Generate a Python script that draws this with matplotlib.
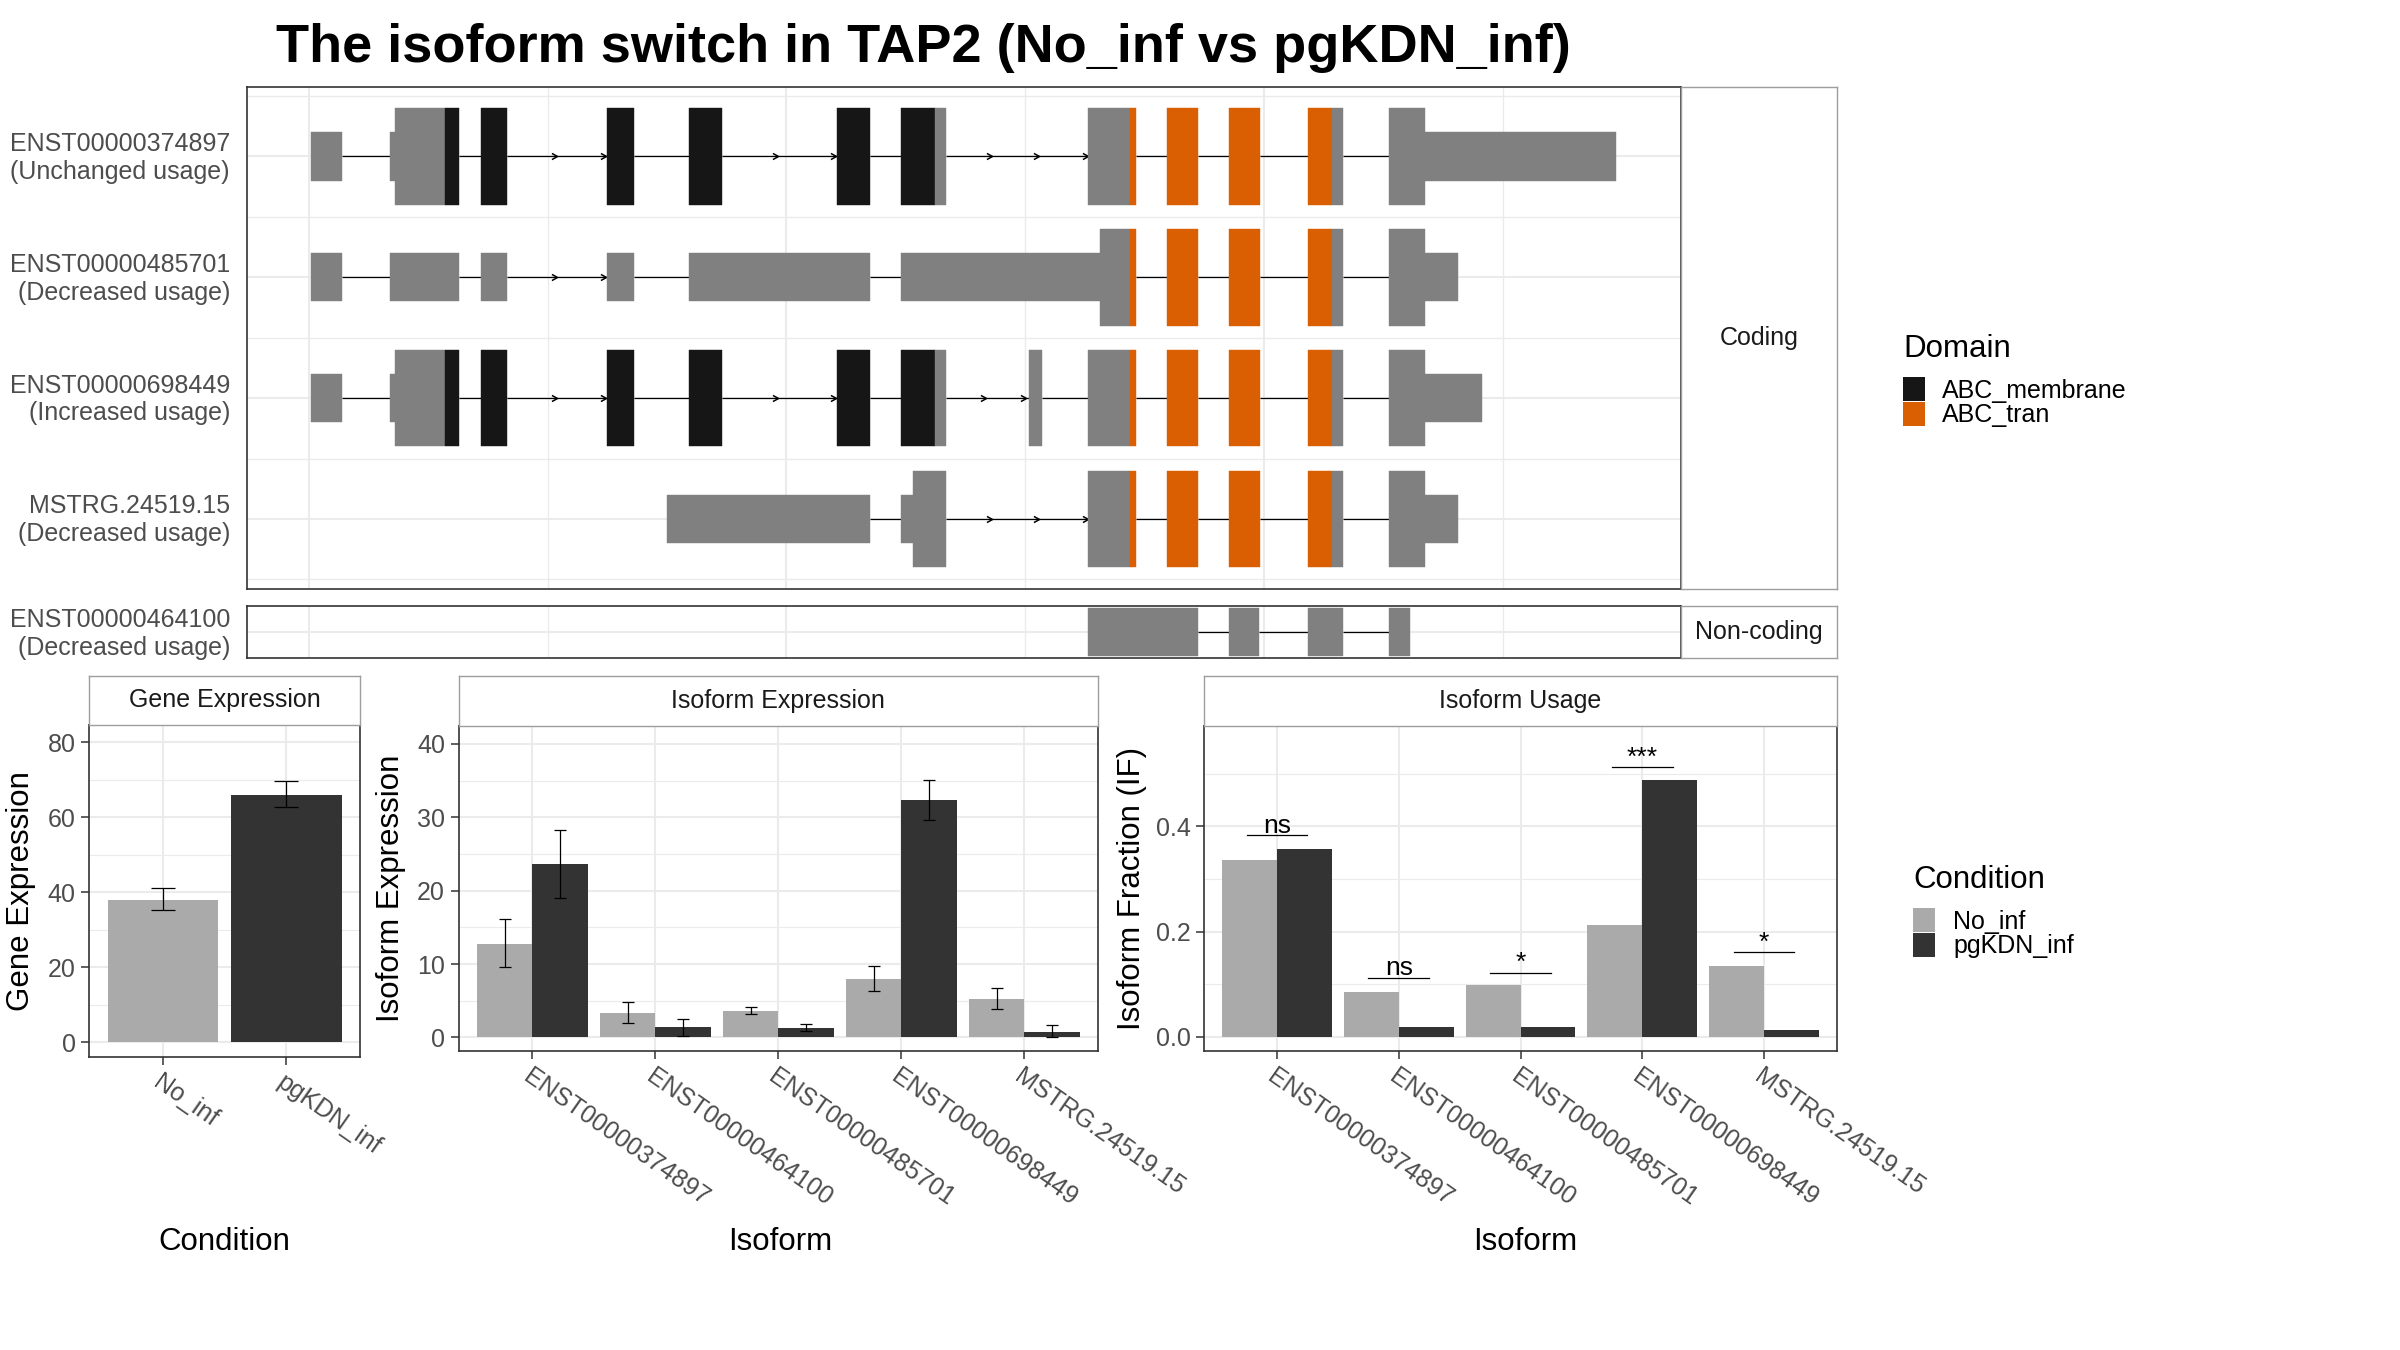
import matplotlib
matplotlib.use("Agg")
import matplotlib.pyplot as plt
import matplotlib.transforms as mtransforms
from matplotlib.patches import Rectangle
import numpy as np

plt.rcParams['font.family'] = ['Liberation Sans', 'DejaVu Sans']

# ------------------------------------------------------------------ data
title = "The isoform switch in TAP2 (No_inf vs pgKDN_inf)"

coding_tx = ["ENST00000374897", "ENST00000485701", "ENST00000698449", "MSTRG.24519.15"]
coding_usage = ["Unchanged usage", "Decreased usage", "Increased usage", "Decreased usage"]
noncoding_tx = ["ENST00000464100"]
noncoding_usage = ["Decreased usage"]

# exon segments in transcript coordinates (start, end, feature)
exons_ENST00000374897 = [(150, 216, 'UTR'), (318, 328, 'UTR'), (328, 434, 'CDS'), (434, 464, 'ABC_membrane'),
                         (511, 566, 'ABC_membrane'), (778, 835, 'ABC_membrane'), (951, 1021, 'ABC_membrane'),
                         (1265, 1335, 'ABC_membrane'), (1401, 1473, 'ABC_membrane'), (1473, 1497, 'CDS'),
                         (1797, 1886, 'CDS'), (1886, 1899, 'ABC_tran'), (1965, 2030, 'ABC_tran'),
                         (2096, 2162, 'ABC_tran'), (2263, 2314, 'ABC_tran'), (2314, 2338, 'CDS'),
                         (2435, 2511, 'CDS'), (2511, 2916, 'UTR')]
exons_ENST00000485701 = [(150, 216, 'UTR'), (318, 464, 'UTR'), (511, 566, 'UTR'), (778, 835, 'UTR'),
                         (951, 1335, 'UTR'), (1401, 1823, 'UTR'), (1823, 1886, 'CDS'), (1886, 1899, 'ABC_tran'),
                         (1965, 2030, 'ABC_tran'), (2096, 2162, 'ABC_tran'), (2263, 2314, 'ABC_tran'),
                         (2314, 2338, 'CDS'), (2435, 2511, 'CDS'), (2511, 2581, 'UTR')]
exons_ENST00000698449 = [(150, 216, 'UTR'), (318, 328, 'UTR'), (328, 434, 'CDS'), (434, 464, 'ABC_membrane'),
                         (511, 566, 'ABC_membrane'), (778, 835, 'ABC_membrane'), (951, 1021, 'ABC_membrane'),
                         (1265, 1335, 'ABC_membrane'), (1401, 1473, 'ABC_membrane'), (1473, 1497, 'CDS'),
                         (1671, 1700, 'CDS'),
                         (1797, 1886, 'CDS'), (1886, 1899, 'ABC_tran'), (1965, 2030, 'ABC_tran'),
                         (2096, 2162, 'ABC_tran'), (2263, 2314, 'ABC_tran'), (2314, 2338, 'CDS'),
                         (2435, 2511, 'CDS'), (2511, 2632, 'UTR')]
exons_MSTRG_24519_15 = [(905, 1335, 'UTR'), (1401, 1426, 'UTR'), (1426, 1497, 'CDS'),
                        (1797, 1886, 'CDS'), (1886, 1899, 'ABC_tran'), (1965, 2030, 'ABC_tran'),
                        (2096, 2162, 'ABC_tran'), (2263, 2314, 'ABC_tran'), (2314, 2338, 'CDS'),
                        (2435, 2511, 'CDS'), (2511, 2581, 'UTR')]
exons_ENST00000464100 = [(1797, 2030, 'ncRNA'), (2095, 2160, 'ncRNA'), (2263, 2338, 'ncRNA'), (2435, 2480, 'ncRNA')]

# intron direction arrowheads (transcript coordinates)
arrows_ENST00000374897 = [672, 775, 1140, 1262, 1594, 1694, 1796]
arrows_ENST00000485701 = [672, 775]
arrows_ENST00000698449 = [672, 775, 1140, 1262, 1581, 1666]
arrows_MSTRG_24519_15 = [1594, 1694, 1796]
arrows_ENST00000464100 = []

tx_breaks_major = [146, 1158, 2170]
tx_breaks_minor = [652, 1664, 2676]
tx_xlim = (14, 3053)

domain_names = ["ABC_membrane", "ABC_tran"]
domain_colors = ["#161616", "#D95F02"]

conditions = ["No_inf", "pgKDN_inf"]
condition_colors = ["#AAAAAA", "#333333"]

gene_expr = [38.0, 65.9]
gene_expr_lo = [35.3, 62.6]
gene_expr_hi = [41.05, 69.6]

isoforms = ["ENST00000374897", "ENST00000464100", "ENST00000485701", "ENST00000698449", "MSTRG.24519.15"]
iso_expr_no = [12.73, 3.32, 3.59, 7.95, 5.23]
iso_expr_no_lo = [9.55, 1.95, 3.23, 6.32, 3.82]
iso_expr_no_hi = [16.09, 4.77, 4.18, 9.73, 6.68]
iso_expr_pg = [23.64, 1.41, 1.27, 32.36, 0.73]
iso_expr_pg_lo = [19.05, 0.23, 0.86, 29.59, 0.0]
iso_expr_pg_hi = [28.23, 2.55, 1.86, 35.09, 1.64]

iso_usage_no = [0.336, 0.086, 0.098, 0.212, 0.135]
iso_usage_pg = [0.357, 0.0195, 0.0195, 0.4886, 0.012]
sig_y = [0.383, 0.112, 0.122, 0.513, 0.1606]
sig_labels = ["ns", "ns", "*", "***", "*"]

# ------------------------------------------------------------------ style
W, H = 2400, 1350
GREY = "#808080"
GRID = "#EBEBEB"
BORDER = "#333333"
STRIP_EDGE = "#9E9E9E"
TICKTXT = "#4D4D4D"
feat_h = {'UTR': 0.2, 'CDS': 0.4, 'ABC_membrane': 0.4, 'ABC_tran': 0.4, 'ncRNA': 0.4}
feat_c = {'UTR': GREY, 'CDS': GREY, 'ncRNA': GREY,
          'ABC_membrane': domain_colors[0], 'ABC_tran': domain_colors[1]}

fig = plt.figure(figsize=(24, 13.5), dpi=100)
fig.patch.set_facecolor('white')


def px_axes(x0, y0, x1, y1):
    return fig.add_axes([x0 / W, 1 - y1 / H, (x1 - x0) / W, (y1 - y0) / H])


def strip(x0, y0, x1, y1, text):
    a = px_axes(x0, y0, x1, y1)
    a.set_xticks([])
    a.set_yticks([])
    for s in a.spines.values():
        s.set_color(STRIP_EDGE)
        s.set_linewidth(1.0)
    a.text(0.5, 0.5, text, transform=a.transAxes, ha='center', va='center',
           fontsize=18, color='#1A1A1A')
    return a


chevron = [(-1, 0.55), (0, 0), (-1, -0.55)]


def draw_tx(ax, segs, y, arrows):
    segs = sorted(segs)
    for a, b in zip(segs[:-1], segs[1:]):
        if b[0] > a[1]:
            ax.plot([a[1], b[0]], [y, y], color='black', lw=0.9, zorder=2, solid_capstyle='butt')
    for s, e, f in segs:
        h = feat_h[f]
        ax.add_patch(Rectangle((s, y - h), e - s, 2 * h, facecolor=feat_c[f],
                               edgecolor=feat_c[f], lw=0.3, zorder=3))
    if arrows:
        ax.plot(arrows, [y] * len(arrows), linestyle='none', marker=chevron, ms=8,
                mfc='none', mec='black', mew=1.1, zorder=2.5)


def tx_axes_style(ax):
    for s in ax.spines.values():
        s.set_color(BORDER)
        s.set_linewidth(1.2)
    ax.set_xlim(*tx_xlim)
    ax.set_xticks(tx_breaks_major)
    ax.set_xticks(tx_breaks_minor, minor=True)
    ax.tick_params(axis='x', which='both', length=0, labelbottom=False)
    ax.tick_params(axis='y', which='both', length=0, pad=12, labelsize=18, labelcolor=TICKTXT)
    ax.grid(which='major', color=GRID, lw=1.5)
    ax.grid(which='minor', color=GRID, lw=1.0)
    ax.set_axisbelow(True)


def lift_labels(ax, dy_px=3):
    off = mtransforms.ScaledTranslation(0, dy_px / 100.0, fig.dpi_scale_trans)
    for lbl in ax.get_yticklabels():
        lbl.set_transform(lbl.get_transform() + off)


# ------------------------------------------------------------------ transcripts
axT = px_axes(246.6, 86.6, 1680.7, 588.7)
tx_axes_style(axT)
coding_exons = [exons_ENST00000374897, exons_ENST00000485701, exons_ENST00000698449, exons_MSTRG_24519_15]
coding_arrows = [arrows_ENST00000374897, arrows_ENST00000485701, arrows_ENST00000698449, arrows_MSTRG_24519_15]
rows = np.arange(1, len(coding_tx) + 1)
for r, ex, ar in zip(rows, coding_exons, coding_arrows):
    draw_tx(axT, ex, r, ar)
axT.set_ylim(len(coding_tx) + 0.577, 0.423)
axT.set_yticks(rows)
axT.set_yticklabels([f"{t}\n({u})" for t, u in zip(coding_tx, coding_usage)])
axT.set_yticks(np.arange(0.5, len(coding_tx) + 1, 1.0), minor=True)
axT.set_yticklabels([], minor=True)
lift_labels(axT, 3)
strip(1680.7, 86.6, 1837.3, 588.7, "Coding")

axN = px_axes(246.6, 606, 1680.7, 657.7)
tx_axes_style(axN)
draw_tx(axN, exons_ENST00000464100, 0, arrows_ENST00000464100)
axN.set_ylim(-0.436, 0.436)
axN.set_yticks([0])
axN.set_yticklabels([f"{t}\n({u})" for t, u in zip(noncoding_tx, noncoding_usage)])
lift_labels(axN, 2)
strip(1680.7, 606, 1837.3, 657.7, "Non-coding")


# ------------------------------------------------------------------ bar panels
def bar_style(ax):
    for s in ax.spines.values():
        s.set_color(BORDER)
        s.set_linewidth(1.2)
    ax.set_axisbelow(True)
    ax.grid(which='major', color=GRID, lw=1.5)
    ax.grid(which='minor', axis='y', color=GRID, lw=0.8)
    ax.tick_params(which='major', length=5.8, width=1.1, color=BORDER, labelsize=18,
                   labelcolor=TICKTXT, pad=4)
    ax.tick_params(which='minor', length=0)
    for lbl in ax.get_xticklabels():
        lbl.set_rotation(-35)
        lbl.set_rotation_mode('anchor')
        lbl.set_ha('left')
        lbl.set_va('top')


# Gene expression
axG = px_axes(89.3, 725.3, 360.0, 1057.0)
xg = np.arange(1, len(conditions) + 1)
axG.bar(xg, gene_expr, width=0.9, color=condition_colors, zorder=2)
axG.errorbar(xg, gene_expr,
             yerr=[np.array(gene_expr) - np.array(gene_expr_lo), np.array(gene_expr_hi) - np.array(gene_expr)],
             fmt='none', ecolor='black', elinewidth=0.9, capsize=8.6, capthick=0.9, zorder=3)
axG.set_xlim(0.4, len(conditions) + 0.6)
axG.set_ylim(-4.0, 84.5)
axG.set_xticks(xg)
axG.set_xticklabels(conditions)
axG.set_yticks([0, 20, 40, 60, 80])
axG.set_yticks([10, 30, 50, 70], minor=True)
bar_style(axG)
strip(89.3, 675.5, 360.0, 725.3, "Gene Expression")

# Isoform expression
axE = px_axes(458.7, 726.0, 1098.0, 1051.0)
xi = np.arange(1, len(isoforms) + 1)
no = np.array(iso_expr_no); pg = np.array(iso_expr_pg)
axE.bar(xi - 0.225, no, width=0.45, color=condition_colors[0], zorder=2)
axE.bar(xi + 0.225, pg, width=0.45, color=condition_colors[1], zorder=2)
axE.errorbar(xi - 0.225, no, yerr=[no - np.array(iso_expr_no_lo), np.array(iso_expr_no_hi) - no],
             fmt='none', ecolor='black', elinewidth=0.9, capsize=4.1, capthick=0.9, zorder=3)
axE.errorbar(xi + 0.225, pg, yerr=[pg - np.array(iso_expr_pg_lo), np.array(iso_expr_pg_hi) - pg],
             fmt='none', ecolor='black', elinewidth=0.9, capsize=4.1, capthick=0.9, zorder=3)
axE.set_xlim(0.4, len(isoforms) + 0.6)
axE.set_ylim(-1.86, 42.45)
axE.set_xticks(xi)
axE.set_xticklabels(isoforms)
axE.set_yticks([0, 10, 20, 30, 40])
axE.set_yticks([5, 15, 25, 35], minor=True)
bar_style(axE)
strip(458.7, 675.5, 1098.0, 726.0, "Isoform Expression")

# Isoform usage
axU = px_axes(1204.0, 726.0, 1837.0, 1051.0)
axU.bar(xi - 0.225, iso_usage_no, width=0.45, color=condition_colors[0], zorder=2)
axU.bar(xi + 0.225, iso_usage_pg, width=0.45, color=condition_colors[1], zorder=2)
for x, yv, lab in zip(xi, sig_y, sig_labels):
    axU.plot([x - 0.25, x + 0.25], [yv, yv], color='black', lw=0.9, zorder=3)
    axU.text(x, yv + 0.005, lab, ha='center', va='baseline', fontsize=19, color='black', zorder=4)
axU.set_xlim(0.4, len(isoforms) + 0.6)
axU.set_ylim(-0.027, 0.591)
axU.set_xticks(xi)
axU.set_xticklabels(isoforms)
axU.set_yticks([0.0, 0.2, 0.4])
axU.set_yticklabels(["0.0", "0.2", "0.4"])
axU.set_yticks([0.1, 0.3, 0.5], minor=True)
bar_style(axU)
strip(1204.0, 675.5, 1837.0, 726.0, "Isoform Usage")

# ------------------------------------------------------------------ titles
fig.text(923 / W, 1 - 62 / H, title, ha='center', va='baseline', fontsize=39, fontweight='bold')
for (x, y, t) in [(21.5, 891, "Gene Expression"), (391, 888, "Isoform Expression"),
                  (1132, 888, "Isoform Fraction (IF)")]:
    fig.text(x / W, 1 - y / H, t, rotation=90, ha='center', va='center', fontsize=22.5)
for (x, y, t) in [(224.5, 1242, "Condition"), (780, 1242, "Isoform"), (1525, 1242, "Isoform")]:
    fig.text(x / W, 1 - y / H, t, ha='center', va='center', fontsize=22.5)

# ------------------------------------------------------------------ legends
def legend(x_title, y_base, x_key, y_key0, x_lab, name, labels, colors):
    fig.text(x_title / W, 1 - y_base / H, name, ha='left', va='baseline', fontsize=22.5)
    for i, (lab, col) in enumerate(zip(labels, colors)):
        y0 = y_key0 + i * 24.5
        fig.patches.append(Rectangle((x_key / W, 1 - (y0 + 24) / H), 22 / W, 24 / H,
                                     transform=fig.transFigure, facecolor=col, edgecolor='none'))
        fig.text(x_lab / W, 1 - (y0 + 12 + 9) / H, lab, ha='left', va='baseline', fontsize=18)


legend(1903, 357, 1903, 377, 1942, "Domain", domain_names, domain_colors)
legend(1913, 888, 1913, 908, 1953, "Condition", conditions, condition_colors)

fig.savefig("out.png", dpi=100, facecolor='white')
